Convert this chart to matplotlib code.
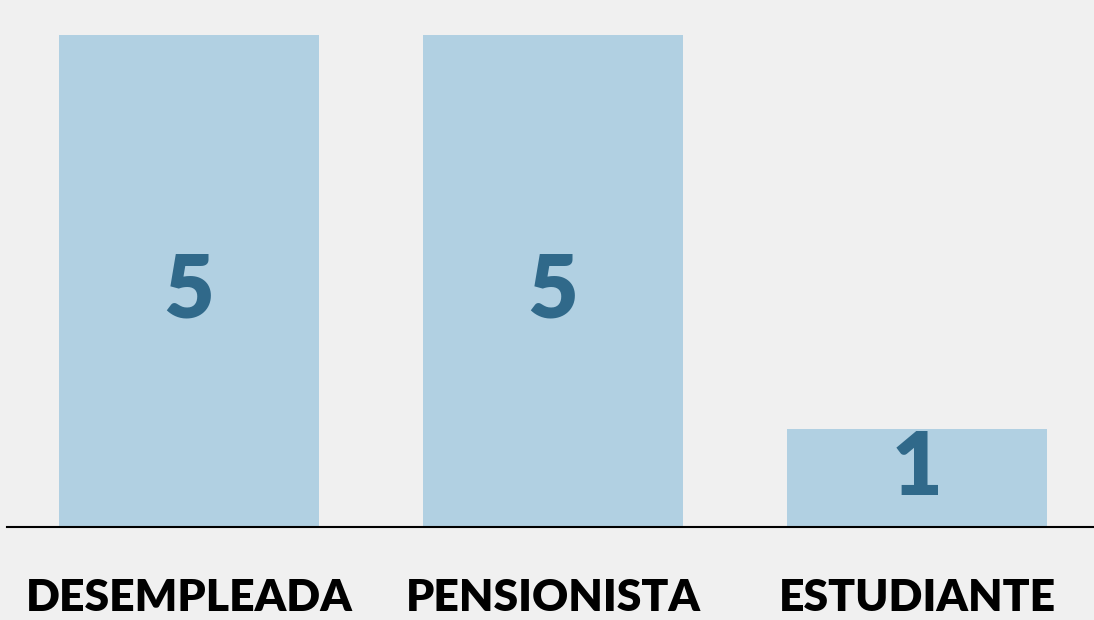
import matplotlib.pyplot as plt

categories = ['DESEMPLEADA', 'PENSIONISTA', 'ESTUDIANTE']
values = [5, 5, 1]

bg = '#f0f0f0'
bar_color = '#b1d0e2'
num_color = '#30698a'

fig = plt.figure(figsize=(10.94, 6.2), dpi=100, facecolor=bg)
ax = fig.add_axes([7 / 1094, 93 / 620, 1087 / 1094, 527 / 620])
ax.set_facecolor(bg)

x = list(range(len(categories)))
bars = ax.bar(x, values, width=0.714, color=bar_color)

ax.set_xlim(-0.5, 2.486)
ax.set_ylim(0, 5.356)

# labels centered in the bar, but never lower than half the label box
label_half = 0.58
for xi, v in zip(x, values):
    y = max(v / 2 - 0.12, label_half)
    ax.text(xi, y, str(v), ha='center', va='center', fontsize=63,
            fontweight='heavy', color=num_color, family='Lato')

for side in ['top', 'right', 'left']:
    ax.spines[side].set_visible(False)
ax.spines['bottom'].set_linewidth(1.5)
ax.spines['bottom'].set_color('black')
ax.set_yticks([])
ax.set_xticks(x)
ax.set_xticklabels(categories, fontsize=32, fontweight='heavy', family='Lato')
ax.tick_params(axis='x', length=0, pad=37)

plt.savefig('out.png', dpi=100, facecolor=bg)
